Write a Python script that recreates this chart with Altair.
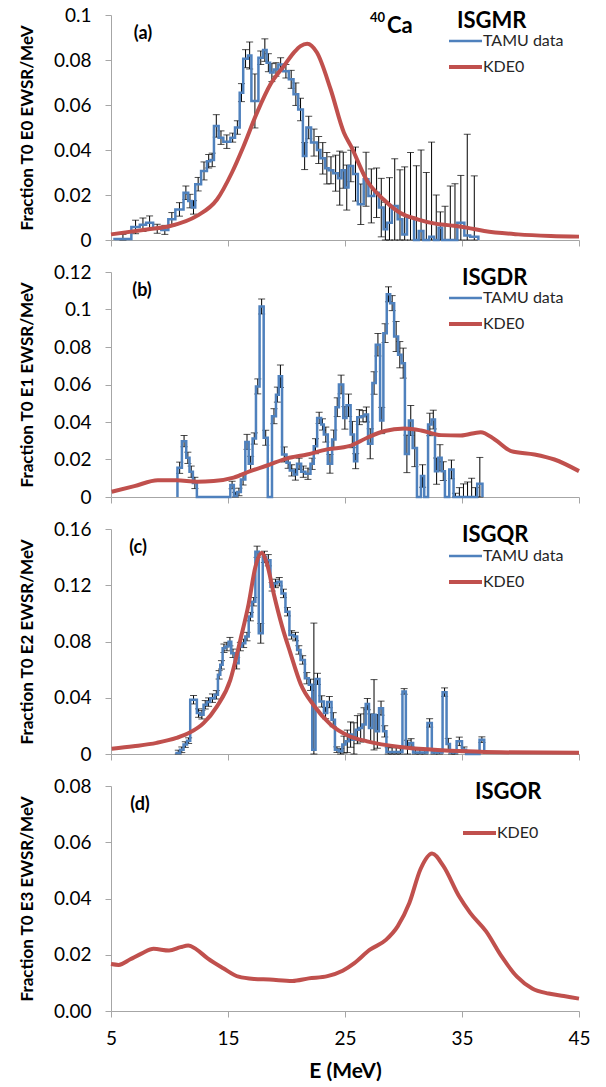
import altair as alt
import pandas as pd

BLUE = "#4f81bd"
RED = "#c0504d"
GRAY = "#a6a6a6"
FONT = "Lato"

X_TICKS = [5, 15, 25, 35, 45]
W = 468
H = 225

# ---------------- (a) ISGMR ----------------
A_EDGES = [5.3, 6.74, 7.46, 8.0, 8.6, 9.3, 9.9, 10.5, 11.2, 11.6,
           11.9, 12.2, 12.7, 13.2, 13.5, 13.8, 14.2, 14.6, 15.2, 15.6,
           16.0, 16.3, 16.7, 17.0, 17.6, 18.0, 18.3, 18.6, 18.9, 19.3,
           19.7, 20.2, 20.6, 21.0, 21.4, 21.7, 22.1, 22.6, 22.9, 23.3,
           23.6, 24.0, 24.4, 24.7, 25.0, 25.3, 25.7, 26.1, 26.6, 27.0,
           27.5, 27.9, 28.3, 28.6, 29.0, 29.5, 29.9, 30.3, 30.9, 31.3,
           31.7, 32.2, 32.6, 33.0, 33.3, 33.8, 34.2, 34.6, 35.2, 35.7]
A_VALS = [0.0005, 0.0058, 0.0068, 0.0077, 0.0050, 0.0045, 0.0092, 0.0136, 0.0210, 0.0173,
          0.0145, 0.0248, 0.0307, 0.0350, 0.0356, 0.0507, 0.0455, 0.0437, 0.0455, 0.0500,
          0.0655, 0.0806, 0.0820, 0.0618, 0.0810, 0.0844, 0.0788, 0.0744, 0.0758, 0.0780,
          0.0750, 0.0714, 0.0648, 0.0580, 0.0373, 0.0500, 0.0433, 0.0400, 0.0363, 0.0319,
          0.0310, 0.0297, 0.0275, 0.0310, 0.0233, 0.0329, 0.0293, 0.0159, 0.0270, 0.0196,
          0.0210, 0.0144, 0.0048, 0.0077, 0.0151, 0.0092, 0.0025, 0.0099, 0.0000, 0.0040,
          0.0000, 0.0015, 0.0000, 0.0055, 0.0000, 0.0000, 0.0000, 0.0077, 0.0020, 0.0015]
A_ERRS = [0.002, 0.003, 0.003, 0.003, 0.002, 0.002, 0.003, 0.003, 0.003, 0.003,
          0.003, 0.003, 0.004, 0.003, 0.003, 0.005, 0.003, 0.003, 0.002, 0.003,
          0.004, 0.004, 0.006, 0.012, 0.003, 0.005, 0.004, 0.004, 0.003, 0.003,
          0.003, 0.004, 0.005, 0.005, 0.006, 0.005, 0.006, 0.006, 0.007, 0.007,
          0.006, 0.008, 0.012, 0.008, 0.010, 0.007, 0.012, 0.009, 0.012, 0.012,
          0.011, 0.013, 0.012, 0.020, 0.021, 0.022, 0.030, 0.029, 0.033, 0.036,
          0.030, 0.042, 0.020, 0.007, 0.015, 0.024, 0.025, 0.021, 0.045, 0.027]
A_END = 36.4
A_KDE_E = [5.0, 8.06, 10.06, 12.34, 14.06, 15.34, 16.34, 17.48, 18.63, 19.77,
           20.63, 21.2, 21.77, 22.6, 23.77, 24.91, 25.5, 26.9, 28.3, 29.7,
           31.2, 32.6, 34.0, 35.4, 36.9, 39.8, 42.6, 45.0]
A_KDE_V = [0.0025, 0.0047, 0.0062, 0.0107, 0.018, 0.030, 0.0418, 0.0566, 0.0692, 0.0773,
           0.0833, 0.0862, 0.0872, 0.0833, 0.067, 0.0477, 0.0418, 0.0262, 0.018, 0.0121,
           0.0092, 0.0074, 0.0065, 0.0055, 0.004, 0.0025, 0.0018, 0.0015]
A_YTICKS = [0, 0.02, 0.04, 0.06, 0.08, 0.1]

# ---------------- (b) ISGDR ----------------
B_EDGES = [10.68, 11.06, 11.43, 11.71, 12.0, 12.34, 15.2, 15.5, 15.77, 16.1,
           16.48, 16.77, 17.1, 17.39, 17.7, 18.05, 18.4, 18.76, 19.1, 19.34,
           19.62, 20.0, 20.28, 20.62, 20.9, 21.25, 21.62, 22.05, 22.33, 22.62,
           22.96, 23.19, 23.53, 23.9, 24.19, 24.48, 24.85, 25.13, 25.48, 25.77,
           26.05, 26.4, 26.68, 26.97, 27.34, 27.63, 28.0, 28.28, 28.57, 28.86,
           29.2, 29.54, 29.83, 30.12, 30.46, 30.78, 31.15, 31.49, 31.77, 32.1,
           32.4, 32.69, 32.97, 33.26, 33.54, 33.91, 34.28, 34.6, 34.95, 35.3,
           35.65, 36.0, 36.3]
B_VALS = [0.0156, 0.0298, 0.0209, 0.0135, 0.0075, 0.0, 0.0064, 0.0005, 0.0027, 0.0094,
          0.0294, 0.0177, 0.0312, 0.0590, 0.1016, 0.0316, 0.0, 0.0431, 0.0546, 0.0644,
          0.0227, 0.0183, 0.0142, 0.0120, 0.0177, 0.0135, 0.0124, 0.0177, 0.0271, 0.0422,
          0.0387, 0.0333, 0.0177, 0.0307, 0.0479, 0.0600, 0.0422, 0.0489, 0.0333, 0.0191,
          0.0426, 0.0431, 0.0440, 0.0284, 0.0608, 0.0812, 0.0408, 0.0874, 0.1081, 0.1034,
          0.0856, 0.0759, 0.0714, 0.0230, 0.0408, 0.0262, 0.0, 0.0112, 0.0, 0.0387,
          0.0413, 0.0138, 0.0209, 0.0138, 0.0, 0.0147, 0.0, 0.0, 0.0, 0.0,
          0.0, 0.0, 0.0071]
B_ERRS = [0.003, 0.003, 0.003, 0.003, 0.003, 0.0, 0.002, 0.002, 0.002, 0.003,
          0.004, 0.004, 0.003, 0.004, 0.004, 0.004, 0.0, 0.004, 0.004, 0.006,
          0.004, 0.003, 0.003, 0.003, 0.003, 0.003, 0.003, 0.003, 0.004, 0.003,
          0.003, 0.004, 0.005, 0.005, 0.005, 0.005, 0.006, 0.006, 0.007, 0.004,
          0.004, 0.003, 0.004, 0.008, 0.006, 0.006, 0.007, 0.005, 0.004, 0.004,
          0.008, 0.007, 0.008, 0.010, 0.008, 0.010, 0.0, 0.006, 0.0, 0.006,
          0.005, 0.007, 0.007, 0.005, 0.0, 0.005, 0.002, 0.005, 0.007, 0.008,
          0.010, 0.005, 0.014]
B_END = 36.75
B_KDE_E = [5.06, 7.0, 9.0, 10.6, 12.34, 13.77, 15.48, 16.9, 18.34, 20.05,
           21.77, 23.48, 25.34, 26.9, 28.3, 30.1, 31.5, 33.2, 34.9, 36.6,
           37.8, 39.2, 41.2, 42.9, 45.0]
B_KDE_V = [0.0028, 0.0058, 0.0089, 0.0089, 0.0082, 0.0085, 0.0103, 0.0138, 0.0168, 0.0206,
           0.0227, 0.0254, 0.0271, 0.0316, 0.0351, 0.0365, 0.0355, 0.033, 0.0328, 0.0346,
           0.0307, 0.0245, 0.0227, 0.0200, 0.0138]
B_YTICKS = [0, 0.02, 0.04, 0.06, 0.08, 0.1, 0.12]

# ---------------- (c) ISGQR ----------------
C_EDGES = [10.6, 10.9, 11.2, 11.5, 11.77, 12.34, 12.63, 12.91, 13.2, 13.48,
           13.86, 14.14, 14.34, 14.54, 14.77, 15.05, 15.28, 15.57, 15.91, 16.2,
           16.48, 16.77, 17.06, 17.34, 17.63, 17.97, 18.26, 18.63, 18.91, 19.2,
           19.57, 19.91, 20.25, 20.63, 20.91, 21.2, 21.57, 21.91, 22.2, 22.48,
           22.82, 23.2, 23.48, 23.85, 24.14, 24.48, 24.77, 25.05, 25.34, 25.62,
           25.91, 26.2, 26.48, 26.77, 27.05, 27.34, 27.62, 27.91, 28.25, 28.54,
           28.85, 29.2, 29.55, 29.91, 30.2, 30.48, 30.82, 31.2, 31.6, 32.05,
           32.42, 32.8, 33.34, 33.68, 33.97, 34.25, 34.54, 35.0, 35.35, 35.8,
           36.5]
C_VALS = [0.0007, 0.0030, 0.0067, 0.0095, 0.0386, 0.0291, 0.0279, 0.0350, 0.0369, 0.0397,
          0.0421, 0.0563, 0.0634, 0.0752, 0.0764, 0.0799, 0.0716, 0.0645, 0.0764, 0.0787,
          0.0835, 0.0977, 0.1083, 0.1438, 0.0858, 0.1402, 0.1378, 0.1189, 0.1213, 0.1225,
          0.1142, 0.1012, 0.0847, 0.0835, 0.0740, 0.0669, 0.0539, 0.0492, 0.0031, 0.0534,
          0.0374, 0.0291, 0.0369, 0.0244, 0.0031, 0.0019, 0.0067, 0.0090, 0.0138, 0.0102,
          0.0173, 0.0185, 0.0209, 0.0355, 0.0185, 0.0279, 0.0161, 0.0326, 0.0161, 0.0015,
          0.0015, 0.0015, 0.0015, 0.0445, 0.0048, 0.0079, 0.0010, 0.0010, 0.0010, 0.0221,
          0.0010, 0.0010, 0.0440, 0.0071, 0.0010, 0.0010, 0.0090, 0.0030, 0.0, 0.0,
          0.0102]
C_ERRS = [0.002, 0.002, 0.002, 0.002, 0.003, 0.003, 0.003, 0.003, 0.003, 0.003,
          0.003, 0.003, 0.003, 0.003, 0.003, 0.003, 0.003, 0.004, 0.003, 0.003,
          0.003, 0.003, 0.003, 0.004, 0.007, 0.004, 0.004, 0.003, 0.003, 0.003,
          0.003, 0.003, 0.003, 0.003, 0.003, 0.003, 0.004, 0.004, 0.090, 0.004,
          0.004, 0.004, 0.004, 0.005, 0.002, 0.002, 0.006, 0.008, 0.009, 0.012,
          0.010, 0.010, 0.012, 0.004, 0.010, 0.025, 0.012, 0.005, 0.004, 0.003,
          0.003, 0.003, 0.003, 0.002, 0.005, 0.003, 0.002, 0.002, 0.002, 0.003,
          0.002, 0.002, 0.003, 0.004, 0.002, 0.002, 0.003, 0.002, 0.002, 0.002,
          0.002]
C_END = 36.9
C_KDE_E = [5.06, 6.92, 8.9, 10.6, 11.77, 12.91, 14.06, 15.2, 16.05, 16.77,
           17.34, 17.86, 18.34, 18.91, 19.63, 20.34, 21.2, 22.34, 23.77, 25.34,
           26.9, 29.7, 32.6, 35.4, 38.3, 45.0]
C_KDE_V = [0.0037, 0.0055, 0.0079, 0.0114, 0.0154, 0.022, 0.0339, 0.0527, 0.081, 0.107,
           0.133, 0.143, 0.135, 0.114, 0.0906, 0.0716, 0.050, 0.0345, 0.021, 0.0128,
           0.009, 0.005, 0.0031, 0.0019, 0.0012, 0.0008]
C_YTICKS = [0, 0.04, 0.08, 0.12, 0.16]

# ---------------- (d) ISGOR ----------------
D_KDE_E = [5.0, 5.66, 6.65, 7.64, 8.64, 9.96, 10.95, 11.6, 12.27, 13.26,
           14.59, 15.9, 17.23, 18.55, 20.5, 21.9, 23.5, 24.8, 25.8, 27.1,
           28.5, 29.5, 30.5, 31.45, 32.44, 33.4, 34.75, 35.7, 37.06, 38.4,
           39.7, 41.0, 42.4, 43.7, 45.0]
D_KDE_V = [0.0167, 0.0164, 0.0184, 0.0205, 0.0221, 0.0215, 0.0227, 0.0233, 0.0220, 0.0187,
           0.0152, 0.0122, 0.0114, 0.0112, 0.0107, 0.0116, 0.0124, 0.0143, 0.0170, 0.0217,
           0.0253, 0.0301, 0.0384, 0.0504, 0.0560, 0.0516, 0.0408, 0.0349, 0.0283, 0.0193,
           0.0122, 0.0080, 0.0062, 0.0053, 0.0044]
D_YTICKS = [0, 0.02, 0.04, 0.06, 0.08]

XSCALE = alt.Scale(domain=[5, 45], nice=False, zero=False)
ONE = pd.DataFrame({"k": [0]})


def step_df(edges, vals, end):
    xs = [edges[0]] + list(edges) + [end, end]
    ys = [0.0] + list(vals) + [vals[-1], 0.0]
    return pd.DataFrame({"E": xs, "v": ys, "i": list(range(len(xs)))})


def err_df(edges, vals, errs, end):
    rights = list(edges[1:]) + [end]
    rows = []
    for l, r, v, e in zip(edges, rights, vals, errs):
        if e > 0:
            rows.append({"E": (l + r) / 2, "lo": max(0.0, v - e), "hi": v + e})
    return pd.DataFrame(rows)


def text(t, x, y, size, weight="bold", align="left", color="black"):
    return alt.Chart(ONE).mark_text(
        text=t, font=FONT, fontSize=size, fontWeight=weight, align=align,
        baseline="middle", color=color
    ).encode(x=alt.value(x), y=alt.value(y))


def legend_line(color, width, x1, x2, y):
    return alt.Chart(ONE).mark_rule(color=color, strokeWidth=width).encode(
        x=alt.value(x1), x2=alt.value(x2), y=alt.value(y))


def panel(kde_e, kde_v, yticks, label_expr, ytitle, label, label_x, name, name_x,
          show_x, edges=None, vals=None, errs=None, end=None, leg_x=338, leg_blue_y=26,
          leg_red_y=52):
    ymax = yticks[-1]
    yscale = alt.Scale(domain=[0, ymax], nice=False)
    xaxis = alt.Axis(values=X_TICKS, tickCount=20, labels=show_x,
                     title="E (MeV)" if show_x else None,
                     titleFontSize=21, titleFontWeight="bold", labelFontSize=19,
                     labelPadding=12, titlePadding=12, labelFlush=False)
    yaxis = alt.Axis(values=yticks, tickCount=20, labelExpr=label_expr, title=ytitle,
                     titleFontSize=17, titleFontWeight="bold", labelPadding=14,
                     titlePadding=17, labelFontSize=19, labelOverlap=False)
    layers = []
    if edges is not None:
        ed = err_df(edges, vals, errs, end)
        sd = step_df(edges, vals, end)
        layers.append(alt.Chart(ed).mark_rule(color="black", strokeWidth=1).encode(
            x=alt.X("E:Q", scale=XSCALE, axis=xaxis),
            y=alt.Y("lo:Q", scale=yscale, axis=yaxis), y2="hi:Q"))
        layers.append(alt.Chart(ed).mark_tick(color="black", orient="horizontal",
                                              size=7, thickness=1).encode(
            x="E:Q", y="lo:Q"))
        layers.append(alt.Chart(ed).mark_tick(color="black", orient="horizontal",
                                              size=7, thickness=1).encode(
            x="E:Q", y="hi:Q"))
        layers.append(alt.Chart(sd).mark_line(color=BLUE, strokeWidth=2.5,
                                              interpolate="step-after").encode(
            x="E:Q", y="v:Q", order="i:Q"))
    kd = pd.DataFrame({"E": kde_e, "v": kde_v})
    layers.append(alt.Chart(kd).mark_line(color=RED, strokeWidth=4,
                                          interpolate="monotone").encode(
        x=alt.X("E:Q", scale=XSCALE, axis=xaxis),
        y=alt.Y("v:Q", scale=yscale, axis=yaxis)))
    layers.append(text(label, label_x, 19, 18, align="center"))
    layers.append(text(name, name_x, 6, 22))
    if edges is not None:
        layers.append(legend_line(BLUE, 2.5, leg_x, leg_x + 33, leg_blue_y))
        layers.append(text("TAMU data", leg_x + 34, leg_blue_y, 16, weight="normal",
                           color="#262626"))
    layers.append(legend_line(RED, 4, leg_x, leg_x + 33, leg_red_y))
    layers.append(text("KDE0", leg_x + 34, leg_red_y, 16, weight="normal",
                       color="#262626"))
    return alt.layer(*layers).properties(width=W, height=H)


GEN = "format(datum.value, '.2~f')"
FIX2 = "format(datum.value, '.2f')"

pa = panel(A_KDE_E, A_KDE_V, A_YTICKS, GEN, "Fraction T0 E0 EWSR/MeV", "(a)", 32,
           "ISGMR", 346, False, A_EDGES, A_VALS, A_ERRS, A_END)
pa = alt.layer(pa, text("40", 259, 3, 13, align="left"), text("Ca", 276, 11, 22))
pb = panel(B_KDE_E, B_KDE_V, B_YTICKS, GEN, "Fraction T0 E1 EWSR/MeV", "(b)", 31,
           "ISGDR", 351, False, B_EDGES, B_VALS, B_ERRS, B_END)
pc = panel(C_KDE_E, C_KDE_V, C_YTICKS, GEN, "Fraction T0 E2 EWSR/MeV", "(c)", 27,
           "ISGQR", 351, False, C_EDGES, C_VALS, C_ERRS, C_END, leg_blue_y=27,
           leg_red_y=53)
pd_ = panel(D_KDE_E, D_KDE_V, D_YTICKS, FIX2, "Fraction T0 E3 EWSR/MeV", "(d)", 29,
            "ISGOR", 364, True, leg_x=352, leg_red_y=47)

chart = alt.vconcat(pa, pb, pc, pd_, spacing=32, bounds="flush").properties(
    padding={"top": 6, "left": 18, "right": 5, "bottom": 5}
).configure_view(stroke=None).configure_axis(
    grid=False, domainColor=GRAY, tickColor=GRAY, tickSize=6, labelFont=FONT,
    titleFont=FONT, labelColor="black", titleColor="black", domainWidth=1
)

chart.save("out.html", embed_options={"renderer": "svg", "actions": False})
